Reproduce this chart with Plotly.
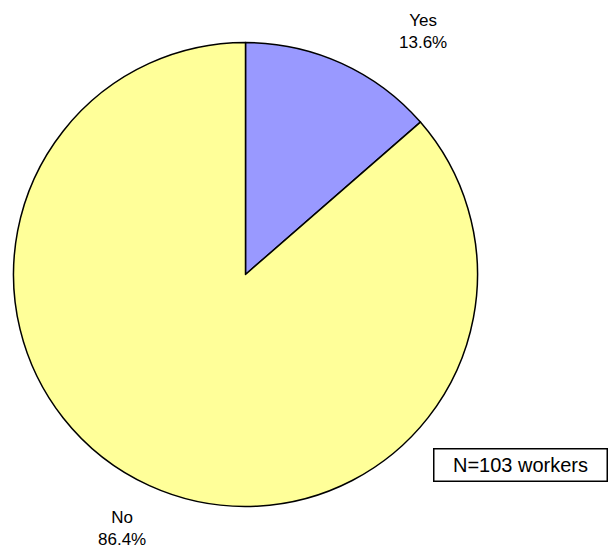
import plotly.graph_objects as go

# Survey answers (counts of workers)
labels = ["Yes", "No"]
counts = [14, 89]
colors = ["#9999FF", "#FFFF99"]
note = "N=103 workers"

W, H = 610, 550
total = sum(counts)
pct = [c / total * 100 for c in counts]

# pie placement in pixels
cx, cy, r = 245.5, 274.5, 232

fig = go.Figure(go.Pie(
    labels=labels,
    values=counts,
    sort=False,
    direction="clockwise",
    rotation=0,
    marker=dict(colors=colors, line=dict(color="black", width=1.5)),
    textinfo="none",
    hoverinfo="label+percent",
    domain=dict(x=[(cx - r) / W, (cx + r) / W],
                y=[(H - cy - r) / H, (H - cy + r) / H]),
    showlegend=False,
))

def px(x, y):
    return x / W, 1 - y / H

FONT = dict(family="Liberation Sans, Arial", size=17, color="black")

label_pos = [(423, 31), (122, 528)]
for lab, p, (lx, ly) in zip(labels, pct, label_pos):
    ax, ay = px(lx, ly)
    fig.add_annotation(x=ax, y=ay, xref="paper", yref="paper",
                       xanchor="center", yanchor="middle",
                       text=f"{lab}<br>{p:.1f}%", showarrow=False,
                       font=FONT, align="center")

bx, by = px(520, 464.5)
fig.add_annotation(x=bx, y=by, xref="paper", yref="paper",
                   xanchor="center", yanchor="middle", text=note,
                   showarrow=False, width=170, height=29,
                   bordercolor="black", borderwidth=1.5, bgcolor="white",
                   font=dict(FONT, size=20))

fig.update_layout(width=W, height=H, margin=dict(l=0, r=0, t=0, b=0),
                  paper_bgcolor="white", plot_bgcolor="white")

fig.write_html("out.html")
